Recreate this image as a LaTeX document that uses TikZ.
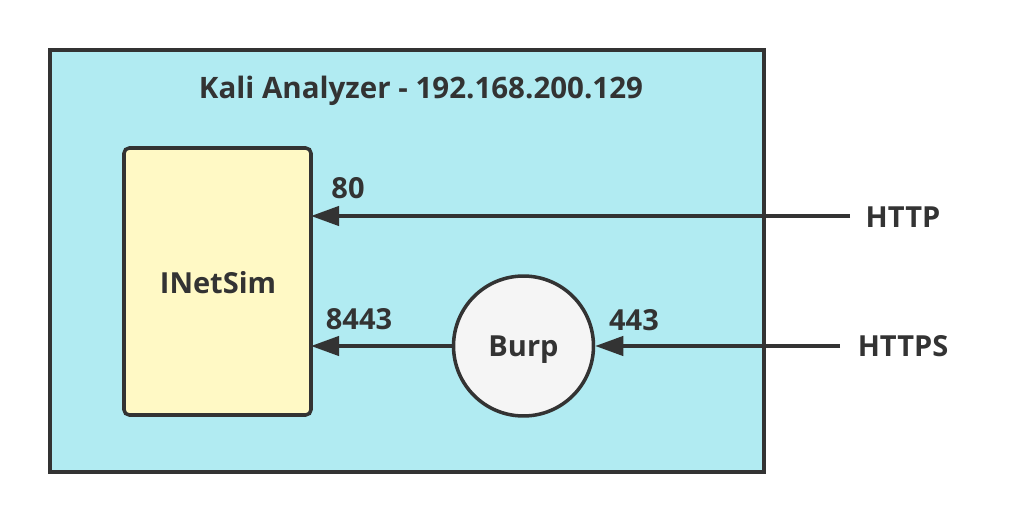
\documentclass[tikz,border=0pt]{standalone}
\usepackage{fontspec}
\setmainfont{Open Sans}
\usepackage{xcolor}
\usetikzlibrary{arrows.meta}
\definecolor{kalibg}{HTML}{B1EBF2}
\definecolor{simbg}{HTML}{FFF9C5}
\definecolor{burpbg}{HTML}{F5F5F5}
\definecolor{ink}{HTML}{333333}
\tikzset{
  lbl/.style={font=\bfseries\fontsize{16.5}{19}\selectfont, text=ink, inner sep=0pt, text height=11.8pt, text depth=0pt},
  flow/.style={draw=ink, line width=2pt, -{Triangle[length=16pt, width=11pt]}}
}

\begin{document}
\begin{tikzpicture}[x=0.02cm, y=-0.02cm]
                \useasboundingbox (0,0) rectangle (1014,524);
                \draw[ink, line width=2pt, fill=kalibg](50,50) rectangle (764,472);
                \node[lbl, font=\bfseries\fontsize{16.8}{20}\selectfont, text height=12pt] (title) at (421,88) {Kali Analyzer - 192.168.200.129};
                \draw[ink, line width=2pt, fill=simbg, rounded corners=3pt](124,148) rectangle (311,415);
                \node[lbl] (inetsim) at (218,283) {INetSim};
                \coordinate (simport) at (311,0);
                \node[circle, draw=ink, line width=2pt, fill=burpbg, minimum size=2.8cm, inner sep=0pt] (burp) at (523.5,346) {};
                \node[lbl] (burptxt) at (burp.center) {Burp};
                \node[lbl] (http) at (903,217) {HTTP};
                \node[lbl] (https) at (903,346) {HTTPS};
                \coordinate (httpin) at (850,216);
                \coordinate (httpsin) at (840,346);
                \draw[flow](httpin) -- (simport |- httpin);
                \draw[flow](httpsin) -- (burp.east);
                \draw[flow](burp.west) -- (simport |- burp.west);
                \node[lbl] (p80) at (348,188) {80};
                \node[lbl] (p443) at (634,320) {443};
                \node[lbl] (p8443) at (359,319) {8443};
            \end{tikzpicture}
\end{document}
